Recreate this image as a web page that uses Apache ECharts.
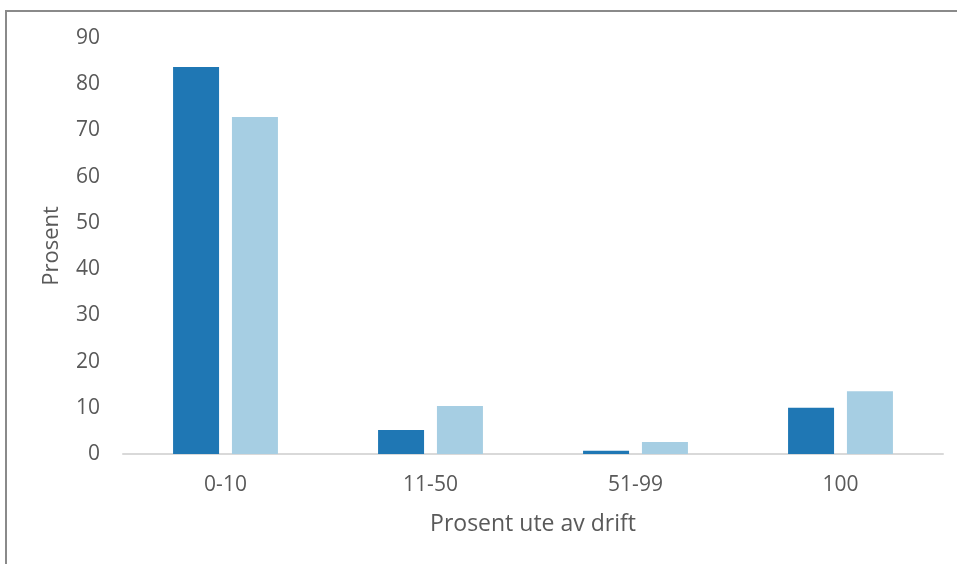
<!DOCTYPE html>
<html>
<head>
<meta charset="utf-8">
<script src="https://cdn.jsdelivr.net/npm/echarts@6/dist/echarts.min.js"></script>
<style>
  html, body { margin: 0; padding: 0; background: #fff; }
  #frame { position: absolute; left: 5px; top: 10px; width: 1200px; height: 800px;
           border-left: 2px solid #8a8a8a; border-top: 2px solid #8a8a8a; }
  #chart { position: absolute; left: 0; top: 0; width: 957px; height: 564px; }
</style>
</head>
<body>
<div id="frame"></div>
<div id="chart"></div>
<script>
  const categories = ['0-10', '11-50', '51-99', '100'];
  const seriesA = [83.7, 5.2, 0.7, 10.0];
  const seriesB = [72.9, 10.4, 2.6, 13.6];

  const chart = echarts.init(document.getElementById('chart'));
  const font = '"Open Sans", "Noto Sans", sans-serif';

  const options = {
    animation: false,
    grid: { left: 123, right: 14, top: 38, bottom: 110 },
    xAxis: {
      type: 'category',
      data: categories,
      name: 'Prosent ute av drift',
      nameLocation: 'middle',
      nameGap: 59,
      nameTextStyle: { color: '#595959', fontSize: 23, fontFamily: font },
      axisLine: { lineStyle: { color: '#d9d9d9', width: 2 } },
      axisTick: { show: false },
      axisLabel: { color: '#595959', fontSize: 21, fontFamily: font, margin: 21 }
    },
    yAxis: {
      type: 'value',
      min: 0,
      max: 90,
      interval: 10,
      name: 'Prosent',
      nameLocation: 'middle',
      nameGap: 60,
      nameTextStyle: { color: '#595959', fontSize: 22, fontFamily: font },
      splitLine: { show: false },
      axisLine: { show: false },
      axisTick: { show: false },
      axisLabel: { color: '#595959', fontSize: 21, fontFamily: font, margin: 23 }
    },
    series: [
      {
        type: 'bar',
        data: seriesA,
        barWidth: 46,
        barGap: '28%',
        itemStyle: { color: '#1f77b4' }
      },
      {
        type: 'bar',
        data: seriesB,
        barWidth: 46,
        itemStyle: { color: '#a6cee3' }
      }
    ]
  };

  chart.setOption(options);
</script>
</body>
</html>
